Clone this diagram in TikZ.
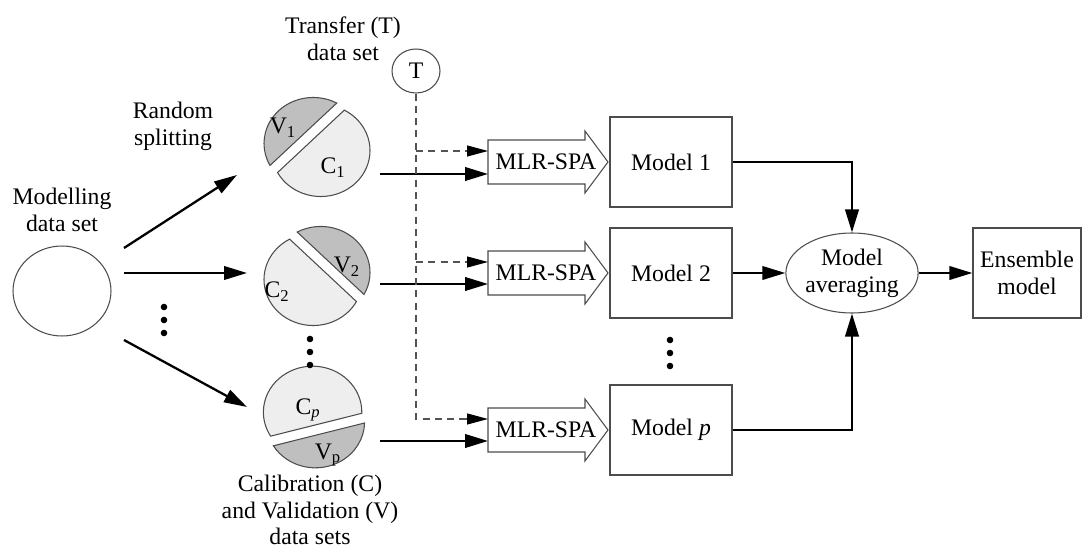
\documentclass[tikz,border=0pt]{standalone}
\usepackage{fontspec}
\setmainfont{Liberation Serif}
\usetikzlibrary{arrows.meta,shapes.geometric}
\begin{document}
\begin{tikzpicture}[x=0.02cm,y=0.02cm,
  txt/.style={font=\fontsize{13.5}{15.3}\selectfont, align=center, inner sep=0pt},
  arr/.style={line width=1.3pt, -{Triangle[length=0.46cm,width=0.27cm]}},
  darr/.style={draw=gray!65!black, line width=0.6pt, dash pattern=on 4pt off 3pt, -{Triangle[length=0.42cm,width=0.22cm,color=black]}},
  boxstyle/.style={draw=gray!60!black, line width=0.7pt, minimum width=2.44cm, minimum height=1.8cm, txt},
  outl/.style={draw=gray!60!black, line width=0.6pt},
  vpiece/.style={outl, fill=gray!50},
  cpiece/.style={outl, fill=gray!13},
  dotst/.style={fill=black}
]
\useasboundingbox (0,0) rectangle (1083,-557);

% Modelling data set
\node[draw=gray!60!black, line width=0.6pt, ellipse, minimum width=1.96cm, minimum height=1.8cm, inner sep=0pt] (mod) at (62,-291) {};
\node[txt] (modlab) at (62,-209.5) {Modelling\\data set};
\node[txt] (randlab) at (173,-126.5) {Random\\splitting};

% Transfer set
\node[draw=gray!60!black, line width=0.6pt, ellipse, minimum width=0.96cm, minimum height=0.88cm, inner sep=0pt, txt] (T) at (416,-71) {T};
\node[txt] (tlab) at (343,-38.5) {Transfer (T)\\data set};

% split circles
\begin{scope}[shift={(317,-147)}, xscale=1.07, rotate=135]
  \filldraw[vpiece] (18,-44.12) arc[start angle=-73.58, end angle=73.58, radius=46] -- cycle;
  \filldraw[cpiece] (8,44.12) arc[start angle=73.58, end angle=286.42, radius=46] -- cycle;
\end{scope}
\begin{scope}[shift={(317,-276)}, xscale=1.07, rotate=45]
  \filldraw[vpiece] (18,-44.12) arc[start angle=-73.58, end angle=73.58, radius=46] -- cycle;
  \filldraw[cpiece] (8,44.12) arc[start angle=73.58, end angle=286.42, radius=46] -- cycle;
\end{scope}
\begin{scope}[shift={(314,-417)}, xscale=1.07, rotate=-75]
  \filldraw[vpiece] (18,-44.12) arc[start angle=-73.58, end angle=73.58, radius=46] -- cycle;
  \filldraw[cpiece] (8,44.12) arc[start angle=73.58, end angle=286.42, radius=46] -- cycle;
\end{scope}
\node[txt] (v1) at (283,-128) {V\textsubscript{1}};
\node[txt] (c1) at (333,-168) {C\textsubscript{1}};
\node[txt] (v2) at (347,-267) {V\textsubscript{2}};
\node[txt] (c2) at (277,-292) {C\textsubscript{2}};
\node[txt] (cp) at (308,-410) {C\textsubscript{\textit{p}}};
\node[txt] (vp) at (328,-455) {V\textsubscript{p}};
\node[txt] (callab) at (310,-510) {Calibration (C)\\and Validation (V)\\data sets};

% arrows from modelling set
\coordinate (a1s) at (124,-248); \coordinate (a1e) at (237,-175);
\coordinate (a2s) at (124,-273); \coordinate (a2e) at (247,-273);
\coordinate (a3s) at (124,-340); \coordinate (a3e) at (247,-407);
\draw[arr] (a1s) -- (a1e);
\draw[arr] (a2s) -- (a2e);
\draw[arr] (a3s) -- (a3e);

% dots
\foreach \yy in {307,320,333} \fill[dotst] (164,-\yy) circle (3.3);
\foreach \yy in {339,352,365} \fill[dotst] (310,-\yy) circle (3.3);
\foreach \yy in {340,353,366} \fill[dotst] (670,-\yy) circle (3.3);

% MLR-SPA arrows
\draw[outl] (488,-140) -- (585,-140) -- (585,-131) -- (608,-162) -- (585,-193) -- (585,-184) -- (488,-184) -- cycle;
\draw[outl] (488,-251) -- (585,-251) -- (585,-242) -- (608,-273) -- (585,-304) -- (585,-295) -- (488,-295) -- cycle;
\draw[outl] (488,-408) -- (585,-408) -- (585,-399) -- (608,-430) -- (585,-461) -- (585,-452) -- (488,-452) -- cycle;
\node[txt] (mlr1) at (546,-162) {MLR-SPA};
\node[txt] (mlr2) at (546,-273) {MLR-SPA};
\node[txt] (mlrp) at (546,-430) {MLR-SPA};

% solid inputs
\coordinate (s1) at (380,-174); \coordinate (e1) at (488,-174);
\coordinate (s2) at (380,-284); \coordinate (e2) at (488,-284);
\coordinate (s3) at (380,-441); \coordinate (e3) at (488,-441);
\draw[arr] (s1) -- (e1);
\draw[arr] (s2) -- (e2);
\draw[arr] (s3) -- (e3);

% dashed inputs
\coordinate (j1) at (416,-151); \coordinate (d1) at (488,-151);
\coordinate (j2) at (416,-262); \coordinate (d2) at (488,-262);
\coordinate (dp) at (488,-419);
\draw[darr] (T.south) |- (dp);
\draw[darr] (j1) -- (d1);
\draw[darr] (j2) -- (d2);

% models
\node[boxstyle] (m1) at (671,-162) {Model 1};
\node[boxstyle] (m2) at (671,-273) {Model 2};
\node[boxstyle] (mp) at (671,-430) {Model \textit{p}};

\node[draw=gray!60!black, line width=0.6pt, ellipse, minimum width=2.52cm, minimum height=1.6cm, inner sep=0pt, txt] (avg) at (852,-273) {Model\\averaging};
\node[draw=gray!60!black, line width=0.7pt, minimum width=2.16cm, minimum height=1.8cm, txt] (ens) at (1027,-273) {Ensemble\\model};

\draw[arr] (m1.east) -| (avg.north);
\draw[arr] (m2.east) -- (avg.west);
\draw[arr] (mp.east) -| (avg.south);
\draw[arr] (avg.east) -- (ens.west);
\end{tikzpicture}
\end{document}
